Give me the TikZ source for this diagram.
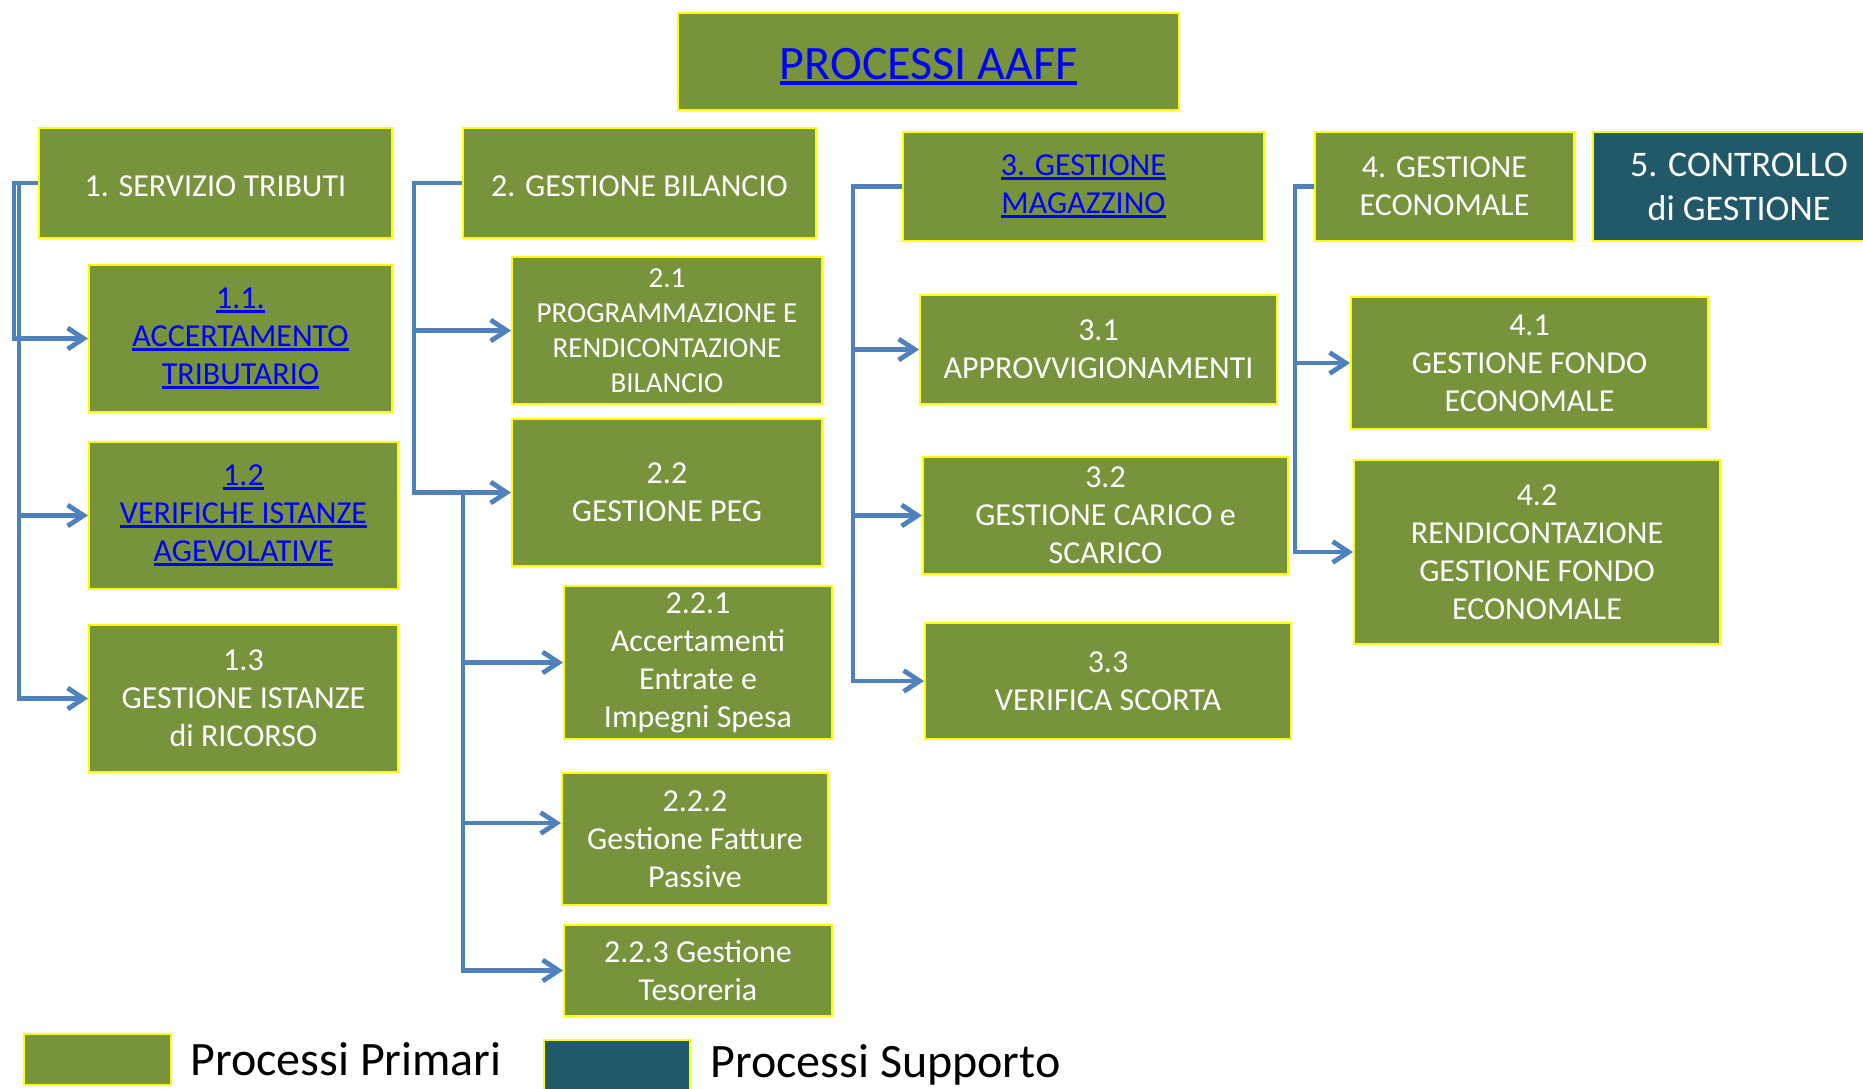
\documentclass[tikz,border=0pt]{standalone}
\usepackage{fontspec}
\setmainfont{Carlito}
\usetikzlibrary{arrows.meta}
\definecolor{procgreen}{HTML}{77933C}
\definecolor{procteal}{HTML}{215968}
\definecolor{edgeyellow}{HTML}{FFFF00}
\definecolor{connblue}{HTML}{4F81BD}
\definecolor{linkblue}{HTML}{0000FF}
\newcommand{\lnk}[1]{\textcolor{linkblue}{\setbox0\hbox{#1}\rlap{\rule[-0.12em]{\wd0}{0.08em}}\box0}}
\tikzset{
  proc/.style={draw=edgeyellow, line width=1pt, fill=procgreen, text=white, align=center,
    inner sep=0pt, font=\fontsize{16}{19}\selectfont,
    execute at begin node={\rule{0pt}{0.85em}}},
  supp/.style={proc, fill=procteal, font=\fontsize{18}{22}\selectfont},
  wh/.style 2 args={minimum width=#1*0.5pt, minimum height=#2*0.5pt},
  conn/.style={draw=connblue, line width=2.4pt, -{Straight Barb[length=8pt,width=10.5pt]}},
  legtext/.style={anchor=base west, inner sep=0pt, font=\fontsize{24}{29}\selectfont},
}
\begin{document}
\begin{tikzpicture}[x=0.5pt,y=-0.5pt]
        \useasboundingbox (0,0) rectangle (1863,1088);
        \clip (0,0) rectangle (1863,1088);
        %% title
        \node[proc, wh={501}{97}, font=\fontsize{24}{29}\selectfont] (top) at (928.5,61.5) {\lnk{PROCESSI AAFF}};
        %% column 1
        \node[proc, wh={353}{110}] (s1) at (215.5,183) {1. SERVIZIO TRIBUTI};
        \node[proc, wh={303}{147}] (s11) at (240.5,338.5) {\lnk{1.1.}\\\lnk{ACCERTAMENTO}\\\lnk{TRIBUTARIO}};
        \node[proc, wh={309}{147}] (s12) at (243.5,515.5) {\lnk{1.2}\\\lnk{VERIFICHE ISTANZE}\\\lnk{AGEVOLATIVE}};
        \node[proc, wh={309}{147}] (s13) at (243.5,698.5) {1.3\\GESTIONE ISTANZE\\di RICORSO};
        %% column 2
        \node[proc, wh={353}{110}] (s2) at (639.5,183) {2. GESTIONE BILANCIO};
        \node[proc, wh={310}{147}, font=\fontsize{14.5}{17.4}\selectfont] (s21) at (667,330.5) {2.1\\PROGRAMMAZIONE E\\RENDICONTAZIONE\\BILANCIO};
        \node[proc, wh={310}{147}] (s22) at (667,492.5) {2.2\\GESTIONE PEG};
        \node[proc, wh={268}{153}] (s221) at (698,662.5) {2.2.1\\Accertamenti\\Entrate e\\Impegni Spesa};
        \node[proc, wh={266}{132}] (s222) at (695,839) {2.2.2\\Gestione Fatture\\Passive};
        \node[proc, wh={268}{91}] (s223) at (698,970.5) {2.2.3 Gestione\\Tesoreria};
        %% column 3
        \node[proc, wh={361}{109}] (s3) at (1083.5,186.5) {\lnk{3. GESTIONE}\\\lnk{MAGAZZINO}};
        \node[proc, wh={357}{109}] (s31) at (1098.5,349.5) {3.1\\APPROVVIGIONAMENTI};
        \node[proc, wh={365}{117}] (s32) at (1105.5,515.5) {3.2\\GESTIONE CARICO e\\SCARICO};
        \node[proc, wh={366}{116}] (s33) at (1108,681) {3.3\\VERIFICA SCORTA};
        %% column 4 and 5
        \node[proc, wh={259}{109}] (s4) at (1444.5,186.5) {4. GESTIONE\\ECONOMALE};
        \node[supp, wh={292}{109}] (s5) at (1739,186.5) {5. CONTROLLO\\di GESTIONE};
        \node[proc, wh={357}{132}] (s41) at (1529.5,363) {4.1\\GESTIONE FONDO\\ECONOMALE};
        \node[proc, wh={366}{184}] (s42) at (1537,552) {4.2\\RENDICONTAZIONE\\GESTIONE FONDO\\ECONOMALE};
        %% connectors
        \draw[conn] (s1.west) -- ++(-24,0) |- (s11.west);
        \foreach \t in {s12,s13} \draw[conn] (s1.west) -- ++(-19,0) |- (\t.west);
        \foreach \t in {s21,s22} \draw[conn] (s2.west) -- ++(-48,0) |- (\t.west);
        \coordinate (j22) at (463,492.5);
        \foreach \t in {s221,s223} \draw[conn] (j22) |- (\t.west);
        \draw[conn] (j22) |- ([yshift=8pt]s222.west);
        \foreach \t in {s31,s32,s33} \draw[conn] (s3.west) -- ++(-49,0) |- (\t.west);
        \foreach \t in {s41,s42} \draw[conn] (s4.west) -- ++(-19,0) |- (\t.west);
        %% legend
        \node[proc, wh={147}{51}] (legp) at (97.5,1059.5) {};
        \node[legtext] (legptxt) at (190,1075) {Processi Primari};
        \node[supp, wh={146}{51}] (legs) at (617,1065.5) {};
        \node[legtext] (legstxt) at (710,1077) {Processi Supporto};
    \end{tikzpicture}
\end{document}
